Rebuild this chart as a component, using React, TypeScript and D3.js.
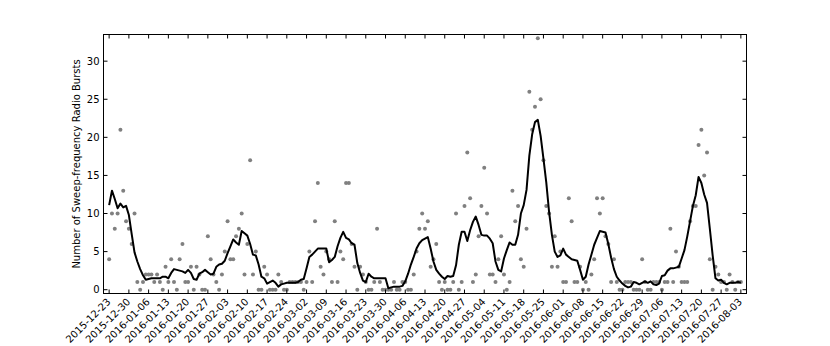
import React from "react";
import * as d3 from "d3";

// daily counts, one per day starting 2015-12-23
const startDate = Date.UTC(2015, 11, 23);
const dailyCounts = [
  4, 10, 8, 10, 21, 13, 9, 8, 6, 10, 1, 0, 1, 2, 2, 2, 1, 2, 1, 0,
  3, 1, 4, 1, 0, 4, 6, 1, 1, 3, 0, 3, 2, 0, 0, 7, 4, 2, 1, 0,
  2, 5, 9, 4, 4, 7, 8, 10, 2, 6, 17, 2, 5, 0, 0, 3, 2, 0, 0, 0,
  2, 1, 0, 0, 1, 1, 1, 1, 1, 0, 1, 5, 1, 9, 14, 3, 2, 5, 4, 1,
  9, 1, 5, 4, 14, 14, 6, 3, 0, 3, 2, 1, 0, 0, 1, 8, 1, 0, 0, 0,
  0, 1, 0, 0, 1, 1, 0, 0, 2, 5, 8, 10, 8, 9, 3, 4, 6, 1, 0, 1,
  0, 0, 1, 10, 0, 1, 11, 18, 12, 1, 2, 7, 11, 16, 10, 2, 2, 1, 4, 7,
  2, 0, 1, 13, 9, 11, 4, 3, 8, 26, 21, 24, 33, 25, 17, 11, 10, 3, 7, 3,
  5, 1, 1, 12, 9, 1, 1, 3, 0, 1, 0, 2, 4, 12, 10, 12, 7, 6, 1, 4,
  1, 0, 0, 1, 1, 1, 0, 0, 0, 4, 1, 0, 0, 1, 1, 1, 0, 1, 1, 8,
  1, 5, 3, 1, 1, 1, 9, 11, 11, 19, 21, 15, 18, 4, 0, 3, 2, 1, 1, 0,
  2, 1, 0, 1, 1,
];

// smoothed curve
const smoothed = [
  11.1, 13.0, 11.9, 10.7, 11.3, 10.8, 11.0, 9.8, 7.3, 4.9, 3.7, 2.7, 1.9, 1.3, 1.4, 1.5, 1.5, 1.5, 1.5, 1.7,
  1.7, 1.5, 2.2, 2.7, 2.6, 2.5, 2.4, 2.2, 2.6, 2.2, 1.4, 1.3, 2.1, 2.3, 2.6, 2.3, 2.0, 2.1, 3.0, 3.3,
  3.4, 3.8, 4.8, 5.7, 6.6, 6.2, 5.9, 7.7, 7.4, 7.1, 6.0, 4.6, 4.5, 3.3, 1.7, 1.5, 0.8, 1.0, 1.2, 0.9,
  0.4, 0.7, 0.8, 0.9, 0.9, 0.9, 0.9, 1.0, 1.3, 1.4, 2.8, 4.3, 4.6, 5.0, 5.4, 5.4, 5.4, 5.4, 3.6, 3.9,
  4.3, 5.7, 6.8, 7.6, 6.8, 6.6, 6.1, 5.9, 3.5, 2.2, 1.2, 1.0, 2.1, 1.7, 1.5, 1.5, 1.5, 1.5, 1.5, 0.2,
  0.3, 0.4, 0.4, 0.4, 0.5, 1.1, 2.1, 3.3, 4.3, 5.4, 6.1, 6.5, 6.7, 6.9, 5.4, 3.7, 2.6, 2.1, 1.7, 1.4,
  1.8, 1.7, 1.8, 3.2, 5.9, 7.6, 7.6, 6.4, 7.8, 8.9, 9.6, 8.5, 7.2, 7.1, 7.1, 6.7, 6.1, 3.7, 2.6, 2.4,
  4.1, 5.2, 6.2, 5.9, 5.9, 7.2, 10.0, 11.1, 13.1, 17.6, 20.4, 22.0, 22.3, 20.2, 17.2, 14.1, 10.2, 7.2, 5.0, 4.3,
  4.5, 5.4, 4.6, 4.3, 4.0, 3.9, 3.8, 2.6, 1.3, 1.7, 3.3, 4.6, 5.9, 6.8, 7.7, 7.6, 7.5, 6.0, 4.2, 2.7,
  1.7, 1.2, 0.8, 0.5, 0.3, 0.4, 1.0, 0.9, 0.7, 0.9, 1.1, 0.9, 1.1, 0.7, 0.6, 0.8, 1.8, 1.9, 2.5, 2.8,
  2.8, 2.9, 3.0, 4.1, 5.2, 7.0, 9.0, 11.0, 12.4, 14.8, 14.0, 12.5, 11.4, 8.0, 4.5, 1.5, 1.2, 1.3, 0.9, 0.7,
  0.9, 0.9, 0.9, 1.0, 0.9,
];

const xTickLabels = [
  "2015-12-23", "2015-12-30", "2016-01-06", "2016-01-13", "2016-01-20", "2016-01-27",
  "2016-02-03", "2016-02-10", "2016-02-17", "2016-02-24", "2016-03-02", "2016-03-09",
  "2016-03-16", "2016-03-23", "2016-03-30", "2016-04-06", "2016-04-13", "2016-04-20",
  "2016-04-27", "2016-05-04", "2016-05-11", "2016-05-18", "2016-05-25", "2016-06-01",
  "2016-06-08", "2016-06-15", "2016-06-22", "2016-06-29", "2016-07-06", "2016-07-13",
  "2016-07-20", "2016-07-27", "2016-08-03",
];
const yTicks = [0, 5, 10, 15, 20, 25, 30];

const DAY = 86400000;
const parseDay = (s: string) => {
  const [y, m, d] = s.split("-").map(Number);
  return new Date(Date.UTC(y, m - 1, d));
};

export default function App() {
  const width = 830;
  const height = 346;
  const left = 103.5;
  const right = 746.5;
  const top = 34.5;
  const bottom = 293.5;
  const font = "DejaVu Sans, sans-serif";
  const tick = 4;

  const x = d3
    .scaleUtc()
    .domain([new Date(startDate - 2 * DAY), new Date(startDate + 226 * DAY)])
    .range([left, right]);
  const y = d3.scaleLinear().domain([-0.5, 33.5]).range([bottom, top]);

  const dayDate = (i: number) => new Date(startDate + i * DAY);

  const line = d3
    .line<number>()
    .x((_, i) => x(dayDate(i)))
    .y((v) => y(v));

  return (
    <svg
      width={width}
      height={height}
      style={{ position: "absolute", left: 0, top: 0, background: "#fff" }}
    >
      {dailyCounts.map((v, i) => (
        <circle key={i} cx={x(dayDate(i))} cy={y(v)} r={2} fill="#808080" />
      ))}
      <path d={line(smoothed) || ""} fill="none" stroke="#000" strokeWidth={2} strokeLinejoin="round" />

      <rect x={left} y={top} width={right - left} height={bottom - top} fill="none" stroke="#000" strokeWidth={1} />

      {xTickLabels.map((lab) => {
        const tx = x(parseDay(lab));
        return (
          <g key={lab}>
            <line x1={tx} x2={tx} y1={bottom} y2={bottom - tick} stroke="#000" />
            <line x1={tx} x2={tx} y1={top} y2={top + tick} stroke="#000" />
            <text
              transform={`translate(${tx + 2},${bottom + 9}) rotate(-45)`}
              textAnchor="end"
              fontFamily={font}
              fontSize={10}
            >
              {lab}
            </text>
          </g>
        );
      })}

      {yTicks.map((t) => (
        <g key={t}>
          <line x1={left} x2={left + tick} y1={y(t)} y2={y(t)} stroke="#000" />
          <line x1={right} x2={right - tick} y1={y(t)} y2={y(t)} stroke="#000" />
          <text
            x={left - 4}
            y={y(t)}
            dy="0.35em"
            textAnchor="end"
            fontFamily={font}
            fontSize={10}
          >
            {t}
          </text>
        </g>
      ))}

      <text
        transform={`translate(${80},${(top + bottom) / 2}) rotate(-90)`}
        textAnchor="middle"
        fontFamily={font}
        fontSize={10}
      >
        Number of Sweep-frequency Radio Bursts
      </text>
    </svg>
  );
}
